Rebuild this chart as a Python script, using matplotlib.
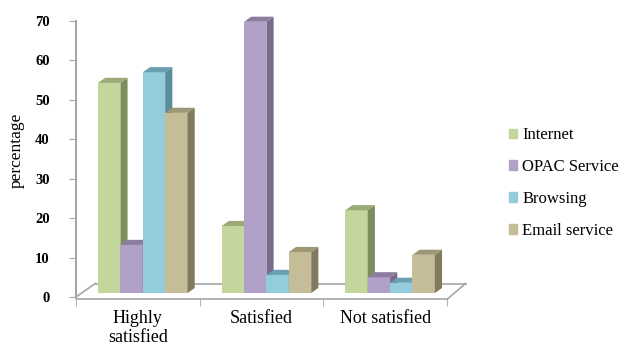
import numpy as np
import matplotlib
matplotlib.use("Agg")
import matplotlib.pyplot as plt
from matplotlib.patches import Polygon, Patch
from matplotlib.font_manager import FontProperties

# %%
# Data
categories = ["Highly\nsatisfied", "Satisfied", "Not satisfied"]
series = ["Internet", "OPAC Service", "Browsing", "Email service"]
internet = [53.3, 17.0, 21.0]
opac = [12.2, 68.8, 4.0]
browsing = [56.0, 4.6, 2.6]
email = [45.7, 10.4, 9.7]
yticks = [0, 10, 20, 30, 40, 50, 60, 70]

values = [internet, opac, browsing, email]

# front, side, top colours per series
front = ["#C3D69B", "#B2A1C7", "#93CDDD", "#C4BD97"]
side = ["#7F8C5E", "#786A8A", "#5B8C9B", "#817A5C"]
top = ["#9BAA76", "#8C7DA0", "#6A9FB2", "#9E9776"]

plt.rcParams["font.family"] = ["Liberation Serif", "DejaVu Serif"]
axis_grey = "#A6A6A6"
cat_font = FontProperties(family="Liberation Serif", size=13)
tick_font = FontProperties(family="Liberation Serif", size=10.5,
                           weight="bold")

# %%
fig = plt.figure(figsize=(6.24, 3.56), dpi=100)
ax = fig.add_axes([76 / 624, 59 / 356, 371 / 624, 276 / 356])
ax.set_xlim(-0.5, 2.5)
ax.set_ylim(0, 70)

# pseudo 3D depth, in data units
dx, dy = 0.058, 1.3
base = 1.0
w = 0.181

for i, vals in enumerate(values):
    for c, v in enumerate(vals):
        x0 = c - 0.322 + i * w
        t = base + v
        z = 3 + c * 10 + i
        ax.bar(x0, v, w, bottom=base, align="edge", color=front[i],
               zorder=z, linewidth=0, clip_on=False)
        ax.add_patch(Polygon([(x0 + w, base), (x0 + w + dx, base + dy),
                              (x0 + w + dx, t + dy), (x0 + w, t)],
                             closed=True, color=side[i], lw=0, zorder=z,
                             clip_on=False))
        ax.add_patch(Polygon([(x0, t), (x0 + dx, t + dy),
                              (x0 + w + dx, t + dy), (x0 + w, t)],
                             closed=True, color=top[i], lw=0, zorder=z,
                             clip_on=False))

# floor outline
fl = dict(color=axis_grey, lw=1.2, clip_on=False, zorder=1)
ax.plot([-0.5, -0.345], [0, 3.4], **fl)
ax.plot([-0.345, 2.65], [3.4, 3.4], **fl)
ax.plot([2.5, 2.65], [-0.6, 3.4], **fl)

# axes styling
for s in ["top", "right"]:
    ax.spines[s].set_visible(False)
ax.spines["bottom"].set_position(("data", -0.6))
ax.spines["bottom"].set_color(axis_grey)
ax.spines["left"].set_color(axis_grey)
ax.spines["bottom"].set_linewidth(1.2)
ax.spines["left"].set_linewidth(1.5)

ax.set_yticks(yticks)
ax.set_yticklabels([str(v) for v in yticks])
for lab in ax.get_yticklabels():
    lab.set_fontproperties(tick_font)
ax.tick_params(axis="y", length=5, color=axis_grey, pad=14)

ax.set_xticks([0, 1, 2])
ax.set_xticklabels(categories, linespacing=1.1)
for lab in ax.get_xticklabels():
    lab.set_fontproperties(cat_font)
ax.set_xticks([-0.5, 0.5, 1.5, 2.5], minor=True)
ax.tick_params(axis="x", which="major", length=0, pad=8)
ax.tick_params(axis="x", which="minor", length=5, color=axis_grey)

fig.text(17 / 624, 1 - 150 / 356, "percentage", rotation=90,
         ha="center", va="center", fontsize=12.5)

handles = [Patch(color=front[i], label=series[i]) for i in range(4)]
fig.legend(handles=handles, loc="center left",
           bbox_to_anchor=(494 / 624, 1 - 183 / 356), frameon=False,
           prop={"size": 12}, handlelength=0.5,
           handleheight=0.5, handletextpad=0.3, labelspacing=0.95)

fig.savefig("out.png", dpi=100)
